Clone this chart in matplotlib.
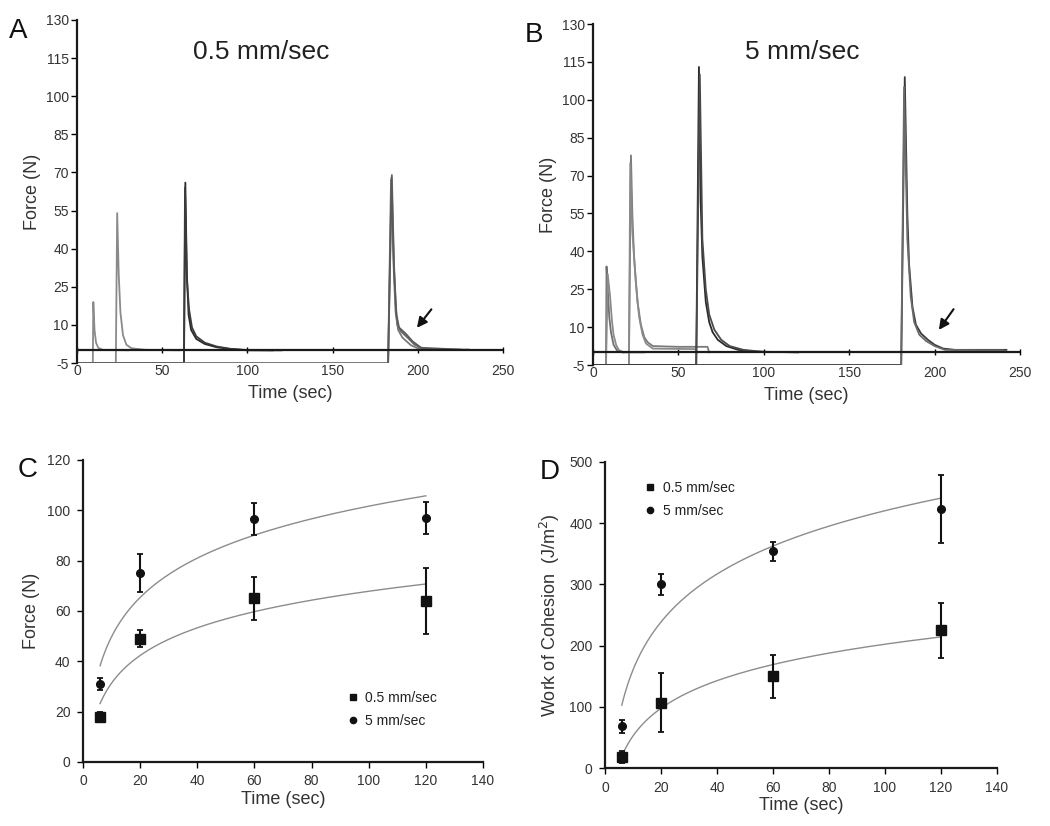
import matplotlib
matplotlib.use("Agg")
import matplotlib.pyplot as plt
from matplotlib.lines import Line2D
import numpy as np

plt.rcParams['font.family'] = ['Liberation Sans', 'DejaVu Sans']
plt.rcParams['axes.unicode_minus'] = False

# --- force traces (time s, force N), read off panels A and B ---
# each entry: (time list, force list, grey level)
traces_a = [
    ([0, 9.3, 9.6, 10.3, 11.2, 12.5, 15, 30], [-5, -5, 19, 8, 3, 1, 0.2, 0], '#8a8a8a'),
    ([0, 22.8, 23.6, 24.5, 25.5, 27, 29, 32, 40, 60], [-5, -5, 54, 30, 15, 6, 2.2, 0.8, 0.2, 0], '#8a8a8a'),
    ([0, 62.8, 63.6, 64.5, 65.5, 67, 70, 75, 82, 90, 100, 120],
     [-5, -5, 66, 30, 14, 8, 4.5, 2.5, 1.2, 0.5, 0, 0], '#2a2a2a'),
    ([62.8, 63.4, 64.5, 65.8, 67.5, 70, 75, 82, 90, 100, 115],
     [-5, 64, 28, 16, 9, 5.5, 3, 1.5, 0.6, 0.1, 0], '#3a3a3a'),
    ([0, 182.6, 184.8, 186, 187, 188, 190, 194, 198, 203, 210, 230],
     [-5, -5, 69, 35, 18, 10, 7.5, 5, 2.3, 0.6, 0.3, 0.3], '#6a6a6a'),
    ([182.6, 184.3, 186, 187, 188.5, 191, 196, 201, 220],
     [-5, 67, 30, 15, 8, 5, 2, 0.5, 0.2], '#7a7a7a'),
    ([182.6, 184.6, 186, 187.5, 189, 193, 197, 202, 225],
     [-5, 68, 33, 14, 9, 6.5, 3.5, 1, 0.3], '#5a5a5a'),
]

traces_b = [
    ([0, 7.6, 7.9, 8.6, 9.5, 10.5, 12, 14, 17, 30], [-5, -5, 34, 25, 14, 8, 3, 0.8, 0, 0], '#707070'),
    ([7.6, 8.6, 10, 11, 12, 13.5, 15, 18], [-5, 31, 22, 13, 7, 3, 1, 0], '#8a8a8a'),
    ([0, 21, 22.2, 23, 24, 26, 28, 30, 32, 35, 50, 67, 68],
     [-5, -5, 78, 55, 38, 20, 11, 6, 4, 2.5, 2.2, 2.2, 0], '#7a7a7a'),
    ([21, 21.8, 23, 25, 27, 29, 31, 35, 60, 61],
     [-5, 75, 48, 28, 14, 7, 3.5, 1.5, 1.3, 0], '#8a8a8a'),
    ([0, 60.4, 62, 63, 64, 66, 68, 70, 73, 78, 85, 95, 120],
     [-5, -5, 113, 60, 38, 20, 12, 8, 5, 2.5, 1, 0.3, 0], '#2a2a2a'),
    ([60.4, 62.5, 64, 66, 68, 71, 75, 80, 88, 100],
     [-5, 110, 45, 25, 15, 9, 5, 2.5, 1, 0.2], '#4a4a4a'),
    ([0, 180.4, 182.5, 184, 185, 187, 189, 192, 196, 200, 205, 212, 242],
     [-5, -5, 109, 55, 35, 18, 11, 7.5, 5, 3, 1.5, 1, 1], '#3a3a3a'),
    ([180.4, 182.1, 184, 186, 188, 191, 195, 200, 206, 230, 240],
     [-5, 105, 45, 22, 12, 7, 4.5, 2.5, 1, 0.8, 0.8], '#6a6a6a'),
]

arrow_a = ((209, 17), (198.5, 8))
arrow_b = ((212, 18), (201.5, 8))

# --- panels C and D: mean +/- error ---
t_hold = [6, 20, 60, 120]
force_slow = [18, 49, 65, 64]
force_slow_err = [2, 3.5, 8.5, 13]
force_fast = [31, 75, 96.5, 97]
force_fast_err = [2.5, 7.5, 6.5, 6.3]

work_slow = [18, 107, 150, 225]
work_slow_err = [10, 48, 35, 45]
work_fast = [68, 300, 354, 423]
work_fast_err = [10, 17, 16, 55]

force_ticks = [-5, 10, 25, 40, 55, 70, 85, 100, 115, 130]
speed_labels = ['0.5 mm/sec', '5 mm/sec']

fig = plt.figure(figsize=(10.5, 8.26), dpi=100)

tick_col = '#333333'


def trace_panel(rect, traces, arrow, title, letter, title_x):
    ax = fig.add_axes(rect)
    for t, f, c in traces:
        ax.plot(t, f, color=c, lw=1.3, solid_joinstyle='round')
    ax.axhline(0, color='#1a1a1a', lw=1.6, zorder=5)
    ax.set_xlim(0, 250)
    ax.set_ylim(-5, 130)
    ax.set_yticks(force_ticks)
    ax.set_xticks([0, 50, 100, 150, 200, 250])
    for s in ['top', 'right']:
        ax.spines[s].set_visible(False)
    ax.spines['bottom'].set_position(('data', 0))
    ax.spines['bottom'].set_visible(False)
    ax.spines['left'].set_linewidth(1.6)
    ax.spines['left'].set_color('#1a1a1a')
    ax.tick_params(axis='y', direction='out', length=4, width=1, labelsize=10,
                   labelcolor=tick_col, pad=2)
    ax.tick_params(axis='x', direction='inout', length=4, width=1, labelsize=10,
                   labelcolor=tick_col, pad=8)
    ax.set_ylabel('Force (N)', fontsize=13, color='#333333', labelpad=3)
    ax.set_xlabel('Time (sec)', fontsize=13, color='#333333', labelpad=5)
    ax.annotate('', xy=arrow[1], xytext=arrow[0],
                arrowprops=dict(arrowstyle='-|>', color='#111111', lw=1.5,
                                mutation_scale=15))
    fig.text(title_x, 0.928, title, fontsize=19, color='#222222', ha='center')
    fig.text(rect[0] - 0.065, rect[1] + rect[3] - 0.022, letter, fontsize=20, color='#111111')
    return ax


trace_panel([0.0733, 0.5605, 0.4057, 0.4153], traces_a, arrow_a, '0.5 mm/sec', 'A', 0.249)
trace_panel([0.5648, 0.5581, 0.4067, 0.4128], traces_b, arrow_b, '5 mm/sec', 'B', 0.764)


def mean_panel(rect, ys, yerrs, ymax, ystep, ylabel, letter, leg_anchor):
    ax = fig.add_axes(rect)
    tt = np.linspace(t_hold[0], t_hold[-1], 200)
    for y in ys:
        a, b = np.polyfit(np.log(t_hold), y, 1)
        ax.plot(tt, a * np.log(tt) + b, color='#8c8c8c', lw=1.0, zorder=1)
    mk = ['s', 'o']
    ms = [6.5, 5.5]
    for y, e, m, s in zip(ys, yerrs, mk, ms):
        ax.errorbar(t_hold, y, yerr=e, fmt=m, color='#111111', ms=s, capsize=2.5,
                    elinewidth=1.5, capthick=1.3, zorder=3)
    ax.set_xlim(0, 140)
    ax.set_ylim(0, ymax)
    ax.set_xticks(np.arange(0, 141, 20))
    ax.set_yticks(np.arange(0, ymax + 1, ystep))
    for s in ['top', 'right']:
        ax.spines[s].set_visible(False)
    for s in ['left', 'bottom']:
        ax.spines[s].set_linewidth(1.6)
        ax.spines[s].set_color('#1a1a1a')
    ax.tick_params(direction='out', length=4, width=1, labelsize=10,
                   labelcolor=tick_col, pad=5)
    ax.set_ylabel(ylabel, fontsize=13, color='#333333', labelpad=5)
    ax.set_xlabel('Time (sec)', fontsize=13, color='#333333', labelpad=2)
    handles = [Line2D([], [], ls='none', marker='s', ms=5, color='#111111'),
               Line2D([], [], ls='none', marker='o', ms=4.5, color='#111111')]
    leg = ax.legend(handles, speed_labels, loc='upper left', bbox_to_anchor=leg_anchor,
                    frameon=False, fontsize=10, handlelength=0.8, borderpad=0,
                    borderaxespad=0, handletextpad=0.5, labelspacing=0.65)
    for txt in leg.get_texts():
        txt.set_color('#222222')
    fig.text(rect[0] - 0.062, rect[1] + rect[3] - 0.02, letter, fontsize=20, color='#111111')
    return ax


mean_panel([0.079, 0.0775, 0.381, 0.3656],
           [force_slow, force_fast], [force_slow_err, force_fast_err],
           120, 20, 'Force (N)', 'C', (0.661, 0.235))
mean_panel([0.5762, 0.0702, 0.3733, 0.3705],
           [work_slow, work_fast], [work_slow_err, work_fast_err],
           500, 100, 'Work of Cohesion  (J/m$^2$)', 'D', (0.101, 0.938))

fig.savefig('out.png', dpi=100)
